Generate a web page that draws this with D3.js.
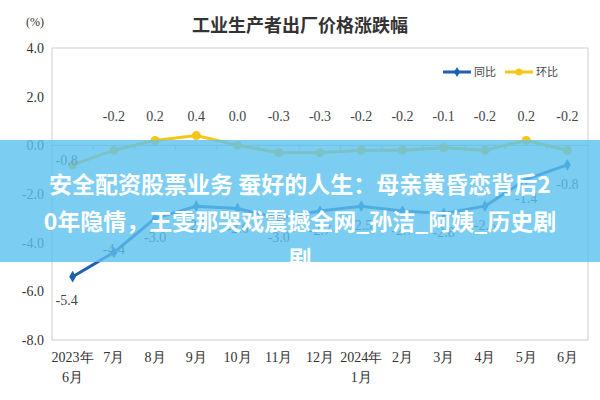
<!DOCTYPE html><html><head><meta charset="utf-8"><script src="https://cdn.jsdelivr.net/npm/d3@7"></script>
<style>body{margin:0;background:#fff}</style></head><body><svg id="c" width="600" height="400"></svg>
<script>
const categories=["2023年\n6月","7月","8月","9月","10月","11月","12月","2024年\n1月","2月","3月","4月","5月","6月"];
const yoy=[-5.4,-4.4,-3.0,-2.5,-2.6,-3.0,-2.7,-2.5,-2.7,-2.8,-2.5,-1.4,-0.8];
const mom=[-0.8,-0.2,0.2,0.4,0.0,-0.3,-0.3,-0.2,-0.2,-0.1,-0.2,0.2,-0.2];
const yTicks=[4,2,0,-2,-4,-6,-8];
const svg=d3.select("#c"),serif="'Liberation Serif','DejaVu Serif',serif";
const x=d3.scaleBand().domain(categories).range([52,588]);
const y=d3.scaleLinear().domain([-8,4]).range([340,48]);
const cx=d=>x(d)+x.bandwidth()/2;
svg.append("rect").attr("x",52).attr("y",48).attr("width",536).attr("height",292).attr("fill","none").attr("stroke","#ccc");
categories.slice(1).forEach(c=>svg.append("line").attr("x1",x(c)).attr("x2",x(c)).attr("y1",y(0)).attr("y2",y(0)+4).attr("stroke","#bbb"));
svg.append("line").attr("x1",52).attr("x2",588).attr("y1",y(0)).attr("y2",y(0)).attr("stroke","#bbb");
yTicks.forEach(t=>svg.append("text").attr("x",44).attr("y",y(t)+5).attr("text-anchor","end").attr("font-family",serif).attr("font-size",14).attr("fill","#333").text(t.toFixed(1)));
categories.forEach(c=>{const p=c.split("\n");p.forEach((s,i)=>svg.append("text").attr("x",cx(c)).attr("y",362+i*20).attr("text-anchor","middle").attr("font-family",serif).attr("font-size",14).attr("fill","#333").text(s));});
svg.append("text").attr("x",300).attr("y",32).attr("text-anchor","middle").attr("font-family","'Noto Sans CJK SC'").attr("font-weight","bold").attr("font-size",18).attr("fill","#333").text("工业生产者出厂价格涨跌幅");
svg.append("text").attr("x",26).attr("y",26).attr("font-family",serif).attr("font-size",12).attr("fill","#333").text("(%)");
const line=d3.line().x((d,i)=>cx(categories[i])).y(d=>y(d));
function series(data,col,shape,labelDy){
 svg.append("path").attr("d",line(data)).attr("fill","none").attr("stroke",col).attr("stroke-width",3);
 data.forEach((d,i)=>{ if(shape==="d")svg.append("path").attr("d",d3.symbol(d3.symbolDiamond,40)()).attr("transform",`translate(${cx(categories[i])},${y(d)})`).attr("fill",col);
  else svg.append("circle").attr("cx",cx(categories[i])).attr("cy",y(d)).attr("r",4.5).attr("fill",col);});
}
series(yoy,"#1f5fb0","d");series(mom,"#f5c518","c");
const lab=(data,dy)=>data.forEach((d,i)=>svg.append("text").attr("x",cx(categories[i])+(i===0?-6:0)).attr("y",y(d)+dy(d,i)).attr("text-anchor","middle").attr("font-family",serif).attr("font-size",14).attr("fill","#444").text(d.toFixed(1).replace("-0.0","0.0")));
lab(mom,(d,i)=>i===0?0:y(0.0)-y(d)-24);
lab(yoy,(d,i)=>i<2?(i===0?28:-14+16):24);
// legend
svg.append("line").attr("x1",443).attr("x2",471).attr("y1",72).attr("y2",72).attr("stroke","#1f5fb0").attr("stroke-width",3);
svg.append("path").attr("d",d3.symbol(d3.symbolDiamond,30)()).attr("transform","translate(457,72)").attr("fill","#1f5fb0");
svg.append("text").attr("x",474).attr("y",76).attr("font-size",11).attr("font-family","'Noto Sans CJK SC'").attr("fill","#444").text("同比");
svg.append("line").attr("x1",505).attr("x2",533).attr("y1",72).attr("y2",72).attr("stroke","#f5c518").attr("stroke-width",3);
svg.append("circle").attr("cx",519).attr("cy",72).attr("r",3.5).attr("fill","#f5c518");
svg.append("text").attr("x",536).attr("y",76).attr("font-size",11).attr("font-family","'Noto Sans CJK SC'").attr("fill","#444").text("环比");
// banner
svg.append("rect").attr("x",0).attr("y",140).attr("width",600).attr("height",122).attr("fill","#5bc0ef").attr("opacity",0.8);
svg.append("clipPath").attr("id","bc").append("rect").attr("x",0).attr("y",140).attr("width",600).attr("height",122);
const bt=svg.append("g").attr("clip-path","url(#bc)");
["安全配资股票业务 蚕好的人生：母亲黄昏恋背后2","0年隐情，王雯那哭戏震撼全网_孙洁_阿姨_历史剧","剧"].forEach((s,i)=>bt.append("text").attr("x",300).attr("y",193+i*37).attr("text-anchor","middle").attr("font-family","'Noto Sans CJK SC'").attr("font-weight","bold").attr("font-size",23).attr("fill","#fff").text(s));
</script></body></html>
